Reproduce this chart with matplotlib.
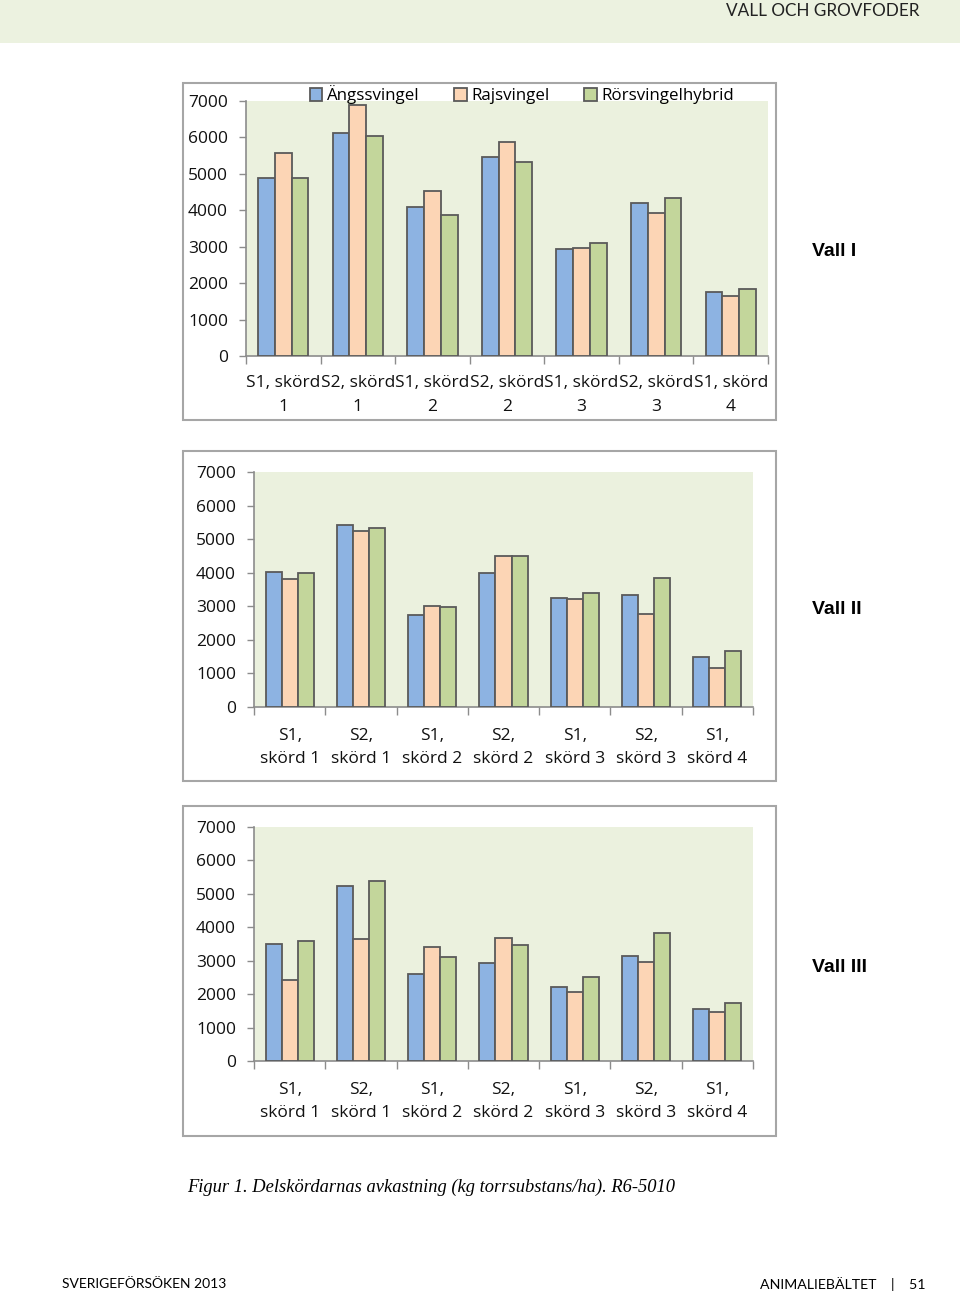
import matplotlib.pyplot as plt
from matplotlib.patches import Rectangle
import numpy as np

# categories (two line labels as in the source figure)
harvests = ["S1, skörd 1", "S2, skörd 1", "S1, skörd 2", "S2, skörd 2",
            "S1, skörd 3", "S2, skörd 3", "S1, skörd 4"]
labels_vall1 = [h.replace("skörd ", "skörd\n") for h in harvests]
labels_vall23 = [h.replace(", ", ",\n") for h in harvests]

series_names = ["Ängssvingel", "Rajsvingel", "Rörsvingelhybrid"]

# kg torrsubstans/ha
vall1_angs = [4885, 6116, 4086, 5455, 2938, 4187, 1745]
vall1_rajs = [5583, 6878, 4536, 5877, 2975, 3921, 1644]
vall1_rors = [4876, 6051, 3875, 5335, 3104, 4334, 1837]

vall2_angs = [4017, 5409, 2734, 3977, 3241, 3331, 1501]
vall2_rajs = [3808, 5230, 3013, 4484, 3222, 2764, 1153]
vall2_rors = [3997, 5320, 2983, 4484, 3401, 3828, 1670]

vall3_angs = [3510, 5235, 2602, 2932, 2214, 3141, 1565]
vall3_rajs = [2433, 3659, 3400, 3689, 2054, 2951, 1456]
vall3_rors = [3580, 5374, 3101, 3470, 2503, 3819, 1735]

yticks = [0, 1000, 2000, 3000, 4000, 5000, 6000, 7000]

colors = ["#8DB3E2", "#FCD5B5", "#C3D69B"]
edge = "#5a5a5a"
plot_bg = "#EBF1DE"
axis_gray = "#8c8c8c"

W, H = 960, 1293
fig = plt.figure(figsize=(W / 100, H / 100), dpi=100)
plt.rcParams['font.family'] = ['Open Sans', 'DejaVu Sans']


def rect(x0, y0, x1, y1):
    return [x0 / W, 1 - y1 / H, (x1 - x0) / W, (y1 - y0) / H]


def frame(x0, y0, x1, y1):
    fig.patches.append(Rectangle((x0 / W, 1 - y1 / H), (x1 - x0) / W, (y1 - y0) / H,
                                 transform=fig.transFigure, facecolor="white",
                                 edgecolor="#a6a6a6", linewidth=1.5, zorder=-5))


def bar_chart(box, labels, values, label_pad):
    ax = fig.add_axes(rect(*box))
    x = np.arange(len(labels))
    w = 0.225
    for i, vals in enumerate(values):
        ax.bar(x + (i - 1) * w, vals, w, color=colors[i], edgecolor=edge,
               linewidth=1.3, label=series_names[i], zorder=3)
    ax.set_facecolor(plot_bg)
    ax.set_xlim(-0.5, len(labels) - 0.5)
    ax.set_ylim(0, 7000)
    ax.set_yticks(yticks)
    ax.set_yticklabels([str(t) for t in yticks], fontsize=12.5, color="#111111")
    ax.set_xticks(x)
    ax.set_xticklabels(labels, fontsize=12.5, linespacing=1.6, color="#111111")
    ax.set_xticks(np.arange(len(labels) + 1) - 0.5, minor=True)
    ax.tick_params(axis="x", which="major", length=0, pad=label_pad)
    ax.tick_params(axis="x", which="minor", length=6, color=axis_gray, width=1)
    ax.tick_params(axis="y", length=5, color=axis_gray, width=1, pad=8)
    for s in ["top", "right"]:
        ax.spines[s].set_visible(False)
    for s in ["left", "bottom"]:
        ax.spines[s].set_color(axis_gray)
        ax.spines[s].set_linewidth(1.2)
    return ax


# header band
fig.patches.append(Rectangle((0, 1 - 43 / H), 1, 43 / H, transform=fig.transFigure,
                             facecolor="#ECF2E0", edgecolor="none", zorder=-5))
fig.text(920 / W, 1 - 11 / H, "VALL OCH GROVFODER", ha="right", va="center",
         fontsize=12.3, family="Lato", color="#222222")

# chart 1
frame(183, 83, 776, 420)
ax1 = bar_chart((246, 101, 768, 356), labels_vall1,
                [vall1_angs, vall1_rajs, vall1_rors], 14)
ax1.legend(loc="center", bbox_to_anchor=(522 / W, 1 - 95 / H),
           bbox_transform=fig.transFigure, ncol=3, frameon=False, fontsize=12.2,
           handlelength=0.75, handleheight=0.75, handletextpad=0.3,
           columnspacing=2.0, borderpad=0)

# chart 2
frame(183, 451, 776, 781)
bar_chart((254, 472, 753, 707), labels_vall23,
          [vall2_angs, vall2_rajs, vall2_rors], 15)

# chart 3
frame(183, 806, 776, 1136)
bar_chart((254, 827, 753, 1061), labels_vall23,
          [vall3_angs, vall3_rajs, vall3_rors], 15)

# side labels
for txt, yy in [("Vall I", 251), ("Vall II", 609), ("Vall III", 968)]:
    fig.text(812 / W, 1 - yy / H, txt, ha="left", va="center", fontsize=14,
             fontweight="bold", family="Liberation Sans")

fig.text(187 / W, 1 - 1187 / H,
         "Figur 1. Delskördarnas avkastning (kg torrsubstans/ha). R6-5010",
         ha="left", va="center", fontsize=13.3, style="italic",
         family="Liberation Serif")

fig.text(62 / W, 1 - 1284 / H, "SVERIGEFÖRSÖKEN 2013", ha="left", va="center",
         fontsize=10, family="Lato")
fig.text(925 / W, 1 - 1284 / H, "ANIMALIEBÄLTET    |    51", ha="right", va="center",
         fontsize=10.2, family="Lato")

fig.savefig("out.png", dpi=100)
plt.close(fig)
